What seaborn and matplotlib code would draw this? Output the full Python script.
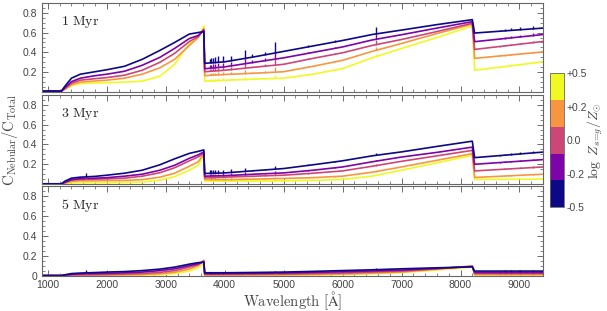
import numpy as np
import pandas as pd
import matplotlib
matplotlib.use('Agg')
import matplotlib.pyplot as plt
import seaborn as sns
from matplotlib.colors import ListedColormap, BoundaryNorm
from matplotlib.ticker import MultipleLocator

# metallicity labels (log Z/Zsun), drawn high Z first so low Z sits on top
z_labels = ['+0.5', '+0.2', '0.0', '-0.2', '-0.5']
z_colors = ['#f0f921', '#f89540', '#cc4778', '#7e03a8', '#0d0887']
ages = ['1 Myr', '3 Myr', '5 Myr']

# continuum knots [Angstrom]
wave = [900, 1230, 1290, 1400, 1550, 1800, 2000, 2300, 2600, 2900, 3150, 3400,
        3550, 3645, 3660, 4000, 4500, 5000, 5500, 6000, 6500, 7000, 7600, 8200,
        8240, 9400]

# C_Nebular / C_Total at the knots, one list per metallicity
frac_1myr = {
    '-0.5': [0.01, 0.01, 0.06, 0.14, 0.18, 0.205, 0.225, 0.26, 0.33, 0.42, 0.50, 0.585,
             0.60, 0.61, 0.29, 0.305, 0.355, 0.41, 0.465, 0.52, 0.58, 0.625, 0.68, 0.73,
             0.595, 0.645],
    '-0.2': [0.01, 0.01, 0.045, 0.105, 0.14, 0.165, 0.18, 0.21, 0.27, 0.35, 0.44, 0.54,
             0.57, 0.62, 0.235, 0.254, 0.30, 0.345, 0.40, 0.455, 0.525, 0.578, 0.645, 0.71,
             0.508, 0.58],
    '0.0':  [0.01, 0.01, 0.035, 0.09, 0.12, 0.135, 0.146, 0.17, 0.22, 0.30, 0.39, 0.51,
             0.56, 0.63, 0.205, 0.22, 0.25, 0.28, 0.34, 0.396, 0.47, 0.53, 0.61, 0.694,
             0.43, 0.51],
    '+0.2': [0.01, 0.01, 0.03, 0.075, 0.10, 0.112, 0.12, 0.14, 0.18, 0.245, 0.33, 0.47,
             0.55, 0.64, 0.165, 0.177, 0.19, 0.205, 0.26, 0.32, 0.41, 0.49, 0.59, 0.685,
             0.34, 0.405],
    '+0.5': [0.01, 0.01, 0.025, 0.065, 0.085, 0.092, 0.095, 0.10, 0.11, 0.16, 0.28, 0.49,
             0.55, 0.665, 0.11, 0.119, 0.13, 0.14, 0.18, 0.237, 0.345, 0.44, 0.55, 0.667,
             0.22, 0.305],
}
frac_3myr = {
    '-0.5': [0.003, 0.003, 0.03, 0.06, 0.07, 0.078, 0.09, 0.11, 0.14, 0.195, 0.255, 0.31,
             0.33, 0.345, 0.107, 0.113, 0.135, 0.157, 0.195, 0.235, 0.285, 0.325, 0.38,
             0.433, 0.267, 0.323],
    '-0.2': [0.003, 0.003, 0.02, 0.045, 0.055, 0.06, 0.065, 0.08, 0.10, 0.14, 0.19, 0.26,
             0.295, 0.325, 0.08, 0.085, 0.10, 0.113, 0.14, 0.173, 0.225, 0.273, 0.32,
             0.373, 0.20, 0.247],
    '0.0':  [0.003, 0.003, 0.015, 0.04, 0.047, 0.05, 0.053, 0.06, 0.08, 0.115, 0.165, 0.235,
             0.275, 0.31, 0.063, 0.07, 0.08, 0.09, 0.11, 0.133, 0.18, 0.23, 0.285, 0.34,
             0.133, 0.173],
    '+0.2': [0.003, 0.003, 0.01, 0.028, 0.033, 0.034, 0.035, 0.037, 0.045, 0.07, 0.11, 0.18,
             0.225, 0.305, 0.047, 0.045, 0.05, 0.057, 0.065, 0.08, 0.12, 0.173, 0.24,
             0.307, 0.067, 0.10],
    '+0.5': [0.003, 0.003, 0.005, 0.012, 0.015, 0.015, 0.015, 0.016, 0.02, 0.04, 0.075, 0.14,
             0.19, 0.29, 0.03, 0.03, 0.031, 0.033, 0.038, 0.047, 0.08, 0.14, 0.215, 0.29,
             0.047, 0.05],
}
frac_5myr = {
    '-0.5': [0.0, 0.0, 0.008, 0.02, 0.025, 0.03, 0.035, 0.04, 0.05, 0.065, 0.085, 0.115,
             0.13, 0.135, 0.028, 0.028, 0.031, 0.035, 0.042, 0.05, 0.058, 0.068, 0.078,
             0.088, 0.045, 0.045],
    '-0.2': [0.0, 0.0, 0.005, 0.013, 0.017, 0.02, 0.022, 0.027, 0.035, 0.05, 0.068, 0.10,
             0.12, 0.14, 0.02, 0.02, 0.022, 0.025, 0.031, 0.038, 0.046, 0.055, 0.072,
             0.09, 0.03, 0.03],
    '0.0':  [0.0, 0.0, 0.002, 0.006, 0.009, 0.011, 0.012, 0.015, 0.02, 0.032, 0.05, 0.085,
             0.11, 0.145, 0.012, 0.012, 0.013, 0.015, 0.02, 0.025, 0.035, 0.045, 0.068,
             0.093, 0.02, 0.02],
    '+0.2': [0.0, 0.0, 0.001, 0.002, 0.003, 0.004, 0.005, 0.007, 0.01, 0.018, 0.033, 0.065,
             0.10, 0.155, 0.006, 0.006, 0.007, 0.008, 0.011, 0.015, 0.024, 0.035, 0.065,
             0.098, 0.01, 0.01],
    '+0.5': [0.0, 0.0, 0.0, 0.0, 0.0, 0.0, 0.0, 0.002, 0.004, 0.009, 0.02, 0.045,
             0.08, 0.12, 0.003, 0.003, 0.003, 0.004, 0.006, 0.01, 0.018, 0.03, 0.055,
             0.085, 0.005, 0.005],
}
fracs = [frac_1myr, frac_3myr, frac_5myr]

# emission lines: wavelength and spike height (for the lowest Z) per age
line_wave = [1640, 3750, 3771, 3798, 3835, 3889, 3970, 4102, 4340, 4471, 4686,
             4861, 5412, 5876, 6563, 8665, 8750, 8863, 9015, 9229]
line_1myr = [0.0, 0.04, 0.045, 0.05, 0.055, 0.06, 0.06, 0.05, 0.085, 0.03, 0.03,
             0.11, 0.02, 0.02, 0.075, 0.015, 0.02, 0.02, 0.025, 0.03]
line_3myr = [0.035, 0.03, 0.03, 0.03, 0.03, 0.03, 0.03, 0.03, 0.035, 0.01, 0.01,
             0.035, 0.01, 0.01, 0.02, 0.01, 0.015, 0.015, 0.015, 0.02]
line_5myr = [0.025, 0.01, 0.01, 0.01, 0.01, 0.01, 0.01, 0.01, 0.01, 0.0, 0.0,
             0.01, 0.0, 0.0, 0.02, 0.005, 0.008, 0.008, 0.008, 0.01]
line_heights = [line_1myr, line_3myr, line_5myr]
line_scale = {'-0.5': 1.0, '-0.2': 0.75, '0.0': 0.6, '+0.2': 0.45, '+0.5': 0.35}

sns.set_style('ticks')
plt.rcParams['font.family'] = ['Liberation Sans', 'DejaVu Sans']
plt.rcParams['mathtext.fontset'] = 'cm'
plt.rcParams['xtick.direction'] = 'in'
plt.rcParams['ytick.direction'] = 'in'

fig = plt.figure(figsize=(6.07, 3.11), dpi=100)
left, width = 0.0692, 0.8254
bottoms = [0.704, 0.408, 0.114]
palette = dict(zip(z_labels, z_colors))

for k in range(3):
    ax = fig.add_axes([left, bottoms[k], width, 0.287])
    rows = []
    for z in z_labels:
        for w, f in zip(wave, fracs[k][z]):
            rows.append((w, f, z))
    df = pd.DataFrame(rows, columns=['wavelength', 'frac', 'Z'])
    sns.lineplot(data=df, x='wavelength', y='frac', hue='Z', hue_order=z_labels,
                 palette=palette, estimator=None, sort=False, legend=False,
                 lw=1.2, ax=ax)
    # emission-line spikes on top of each continuum
    for z in z_labels:
        base = np.interp(line_wave, wave, fracs[k][z])
        tops = base + np.array(line_heights[k]) * line_scale[z]
        ax.vlines(line_wave, base, tops, color=palette[z], lw=1.0)

    ax.set_xlim(900, 9400)
    ax.set_ylim(0, 0.9)
    ax.xaxis.set_major_locator(MultipleLocator(1000))
    ax.xaxis.set_minor_locator(MultipleLocator(200))
    ax.yaxis.set_minor_locator(MultipleLocator(0.05))
    if k < 2:
        ax.set_yticks([0.2, 0.4, 0.6, 0.8])
        ax.set_yticklabels(['0.2', '0.4', '0.6', '0.8'])
        ax.tick_params(labelbottom=False)
    else:
        ax.set_yticks([0, 0.2, 0.4, 0.6, 0.8])
        ax.set_yticklabels(['0', '0.2', '0.4', '0.6', '0.8'])
    ax.tick_params(which='both', top=True, right=True, colors='#555555',
                   labelcolor='#444444', labelsize=7.5)
    ax.tick_params(which='major', length=4, width=0.6)
    ax.tick_params(which='minor', length=2, width=0.5)
    for s in ax.spines.values():
        s.set_color('#666666')
        s.set_linewidth(0.8)
    ax.set_xlabel('')
    ax.set_ylabel('')
    ax.text(0.038, 0.78, r'$\mathrm{%s}$' % ages[k].replace(' ', r'\ '),
            transform=ax.transAxes, fontsize=10, va='center', ha='left')
    if k == 2:
        ax.set_xlabel(r'$\mathrm{Wavelength\ [\AA]}$', fontsize=10.5,
                      color='#444444', labelpad=-1)
    if k == 1:
        ax.set_ylabel(r'$\mathrm{C_{Nebular}/C_{Total}}$', fontsize=10.5,
                      color='#444444', labelpad=2)

# discrete colour bar
cax = fig.add_axes([0.906, 0.334, 0.023, 0.431])
cmap = ListedColormap(z_colors[::-1])
norm = BoundaryNorm([0, 1, 2, 3, 4, 5], cmap.N)
sm = plt.cm.ScalarMappable(cmap=cmap, norm=norm)
cb = fig.colorbar(sm, cax=cax, ticks=[0, 1.25, 2.5, 3.75, 5])
cb.set_ticklabels(['-0.5', '-0.2', '0.0', '+0.2', '+0.5'])
cb.ax.tick_params(length=0, labelsize=7.5, labelcolor='#444444', pad=2)
cb.outline.set_edgecolor('#666666')
cb.outline.set_linewidth(0.6)
cb.set_label(r'$\log\ Z_{s\!=\!g}/Z_{\odot}$', fontsize=10, color='#444444',
             labelpad=-1)

plt.savefig('out.png', dpi=100)
